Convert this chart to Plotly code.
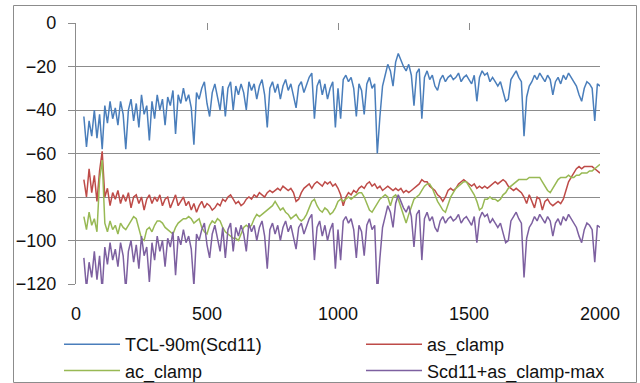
import plotly.graph_objects as go

# ---- data, samples every 10 units from x=30 ----
x_start = 30
x_step = 10

tcl_90m = [
    -43, -57, -45, -52, -40, -53, -42, -58, -38, -46,
    -36, -44, -39, -47, -36, -42, -58, -40, -35, -45,
    -37, -48, -33, -42, -38, -54, -36, -44, -33, -40,
    -35, -47, -34, -38, -31, -51, -33, -37, -30, -36,
    -33, -39, -56, -32, -35, -30, -27, -37, -43, -32,
    -28, -34, -40, -29, -43, -30, -27, -40, -29, -33,
    -28, -32, -40, -27, -31, -28, -35, -29, -26, -33,
    -48, -30, -27, -32, -28, -35, -29, -26, -31, -28,
    -34, -39, -29, -27, -32, -28, -25, -23, -44, -29,
    -26, -33, -28, -35, -30, -27, -48, -30, -44, -26,
    -24, -27, -25, -30, -43, -28, -31, -42, -28, -25,
    -30, -28, -60, -43, -29, -24, -19, -22, -29, -18,
    -14, -17, -20, -22, -19, -24, -38, -23, -21, -44,
    -25, -22, -26, -24, -29, -31, -26, -24, -27, -25,
    -24, -26, -25, -23, -27, -25, -24, -26, -28, -24,
    -36, -25, -22, -24, -23, -27, -25, -27, -29, -27,
    -31, -36, -35, -26, -24, -22, -25, -27, -52, -34,
    -29, -27, -24, -26, -23, -25, -27, -24, -26, -33,
    -27, -25, -28, -24, -26, -23, -25, -27, -29, -33,
    -36, -30, -27, -28, -30, -45, -28, -29,
]

as_clamp = [
    -72, -80, -67, -78, -70, -82, -68, -59, -80, -76,
    -84, -78, -81, -77, -83, -79, -82, -78, -85, -80,
    -79, -83, -80, -86, -81, -79, -83, -80, -82, -79,
    -84, -81, -80, -85, -82, -79, -84, -82, -80, -84,
    -82, -86, -83, -87, -84, -82, -85, -83, -84, -86,
    -85, -83, -84, -81, -82, -80, -79, -81, -83, -82,
    -84, -83, -81, -80, -81, -79, -80, -78, -79, -80,
    -78, -77, -78, -77, -76, -77, -75, -76, -77, -76,
    -78, -82, -81, -78, -76, -75, -74, -76, -74, -73,
    -74, -75, -73, -74, -73, -75, -74, -76, -79, -84,
    -80, -78, -79, -77, -78, -76, -75, -76, -74, -73,
    -75, -74, -76, -75, -77, -76, -75, -76, -77, -76,
    -77, -76, -78, -77, -78, -77, -76, -75, -74, -72,
    -73, -73, -75, -76, -77, -79, -80, -82, -80, -77,
    -76, -77, -76, -74, -73, -72, -73, -74, -75, -74,
    -76, -75, -76, -75, -76, -75, -74, -73, -74, -73,
    -72, -73, -75, -76, -77, -76, -77, -78, -80, -83,
    -79, -82, -85, -80, -81, -86, -82, -81, -83, -84,
    -83, -82, -83, -81, -77, -73, -71, -69, -67, -66,
    -67, -66, -66, -66, -66, -67, -68, -69,
]

ac_clamp = [
    -89, -95, -87, -93, -90, -96, -72, -63, -92, -96,
    -91, -95, -93, -97, -92, -94, -95, -93, -91, -89,
    -90, -95, -99, -100, -95, -94, -96, -93, -91, -91,
    -92, -94, -95, -96, -97, -94, -92, -91, -90, -90,
    -89, -90, -92, -91, -90, -94, -96, -97, -93, -91,
    -92, -90, -91, -94, -96, -97, -98, -99, -99, -100,
    -97, -94, -93, -94, -93, -90, -88, -89, -88, -87,
    -86, -85, -84, -82, -84, -86, -85, -87, -88, -90,
    -89, -88, -90, -91, -90, -88, -85, -82, -81, -84,
    -86, -87, -85, -86, -88, -87, -85, -82, -81, -82,
    -81, -80, -81, -80, -79, -78, -78, -80, -83, -86,
    -87, -85, -83, -81, -80, -79, -80, -84, -80, -79,
    -81, -85, -89, -92, -88, -84, -81, -80, -79, -77,
    -75, -74, -74, -76, -79, -82, -84, -86, -87, -83,
    -80, -78, -76, -75, -74, -73, -73, -75, -77, -79,
    -82, -86, -85, -81, -81, -80, -81, -81, -82, -81,
    -79, -78, -76, -75, -74, -73, -72, -72, -72, -72,
    -71, -71, -71, -71, -71, -73, -75, -77, -78, -76,
    -74, -72, -71, -71, -71, -70, -71, -71, -70, -70,
    -69, -69, -69, -68, -68, -67, -66, -65,
]

scd11_as_clamp_max = [
    -108, -122, -110, -117, -105, -118, -107, -123, -103, -111,
    -101, -109, -104, -112, -101, -107, -123, -105, -100, -110,
    -102, -113, -98, -107, -103, -119, -101, -109, -98, -105,
    -100, -112, -99, -103, -96, -116, -98, -102, -95, -101,
    -98, -104, -121, -97, -100, -95, -92, -102, -108, -97,
    -93, -99, -105, -94, -108, -95, -92, -105, -94, -98,
    -93, -97, -105, -92, -96, -93, -100, -94, -91, -98,
    -113, -95, -92, -97, -93, -100, -94, -91, -96, -93,
    -99, -104, -94, -92, -97, -93, -90, -88, -109, -94,
    -91, -98, -93, -100, -95, -92, -113, -95, -109, -91,
    -89, -92, -90, -95, -108, -93, -96, -107, -93, -90,
    -95, -93, -125, -108, -94, -89, -84, -87, -94, -83,
    -79, -82, -85, -87, -84, -89, -103, -88, -86, -109,
    -90, -87, -91, -89, -94, -96, -91, -89, -92, -90,
    -89, -91, -90, -88, -92, -90, -89, -91, -93, -89,
    -101, -90, -87, -89, -88, -92, -90, -92, -94, -92,
    -96, -101, -100, -91, -89, -87, -90, -92, -117, -99,
    -94, -92, -89, -91, -88, -90, -92, -89, -91, -98,
    -92, -90, -93, -89, -91, -88, -90, -92, -94, -98,
    -101, -95, -92, -93, -95, -110, -93, -94,
]

series_names = ["TCL-90m(Scd11)", "as_clamp", "ac_clamp", "Scd11+as_clamp-max"]
series_colors = ["#4a7ebb", "#be4b48", "#98b954", "#7d60a0"]
legend_of_series = ["legend", "legend2", "legend", "legend2"]
x_ticks = [0, 500, 1000, 1500, 2000]
y_ticks = [-120, -100, -80, -60, -40, -20, 0]

# ---- figure ----
FONT = "Liberation Sans"
GRID = "#8c8c8c"
TXT = "#111111"

def xs(vals):
    return [x_start + x_step * i for i in range(len(vals))]

fig = go.Figure()
all_series = [tcl_90m, as_clamp, ac_clamp, scd11_as_clamp_max]
for i, (vals, name, col, lg) in enumerate(zip(all_series, series_names, series_colors, legend_of_series)):
    fig.add_trace(go.Scatter(
        x=xs(vals), y=vals, mode="lines", name=name,
        line=dict(color=col, width=1.5),
        xaxis="x2" if i == 3 else "x",
        legend=lg,
    ))

W, H = 640, 383
ml, mr, mt, mb = 76, 40, 23, 99
pw, ph = W - ml - mr, H - mt - mb

def px_x(p):
    return (p - ml) / pw

def px_y(p):
    return (H - mb - p) / ph

legend_common = dict(
    orientation="v", xanchor="left", yanchor="top", itemwidth=56,
    font=dict(family=FONT, size=18, color=TXT),
    bgcolor="rgba(0,0,0,0)", tracegroupgap=0, borderwidth=0,
)

fig.update_layout(
    width=W, height=H,
    margin=dict(l=ml, r=mr, t=mt, b=mb, pad=0, autoexpand=False),
    paper_bgcolor="white", plot_bgcolor="white",
    font=dict(family=FONT, size=18, color=TXT),
    showlegend=True,
    legend=dict(x=px_x(59), y=px_y(326), **legend_common),
    legend2=dict(x=px_x(361), y=px_y(326), **legend_common),
    xaxis=dict(
        range=[0, 2000], tickvals=x_ticks, showgrid=False, zeroline=False,
        showline=False, ticks="outside", ticklen=13, tickcolor="rgba(0,0,0,0)",
        tickfont=dict(size=18),
    ),
    xaxis2=dict(
        range=[0, 2000], overlaying="x", side="top", anchor="y", matches="x",
        tickvals=x_ticks, showticklabels=False, ticks="inside", ticklen=7,
        tickwidth=1.3, tickcolor=GRID, showgrid=False, zeroline=False, showline=False,
    ),
    yaxis=dict(
        range=[-120, 0], tickvals=y_ticks, showgrid=True, gridcolor=GRID, gridwidth=1.3,
        zeroline=False, showline=True, linecolor=GRID, linewidth=1.3,
        ticks="outside", ticklen=7, tickwidth=1.3, tickcolor=GRID,
        ticklabelstandoff=8, tickfont=dict(size=18),
    ),
    shapes=[dict(
        type="rect", xref="paper", yref="paper", layer="below",
        x0=px_x(13.5), x1=px_x(636.5), y0=px_y(382.5), y1=px_y(5.5),
        line=dict(color="#8c8c8c", width=1), fillcolor="rgba(0,0,0,0)",
    )],
)

fig.write_html("out.html")
